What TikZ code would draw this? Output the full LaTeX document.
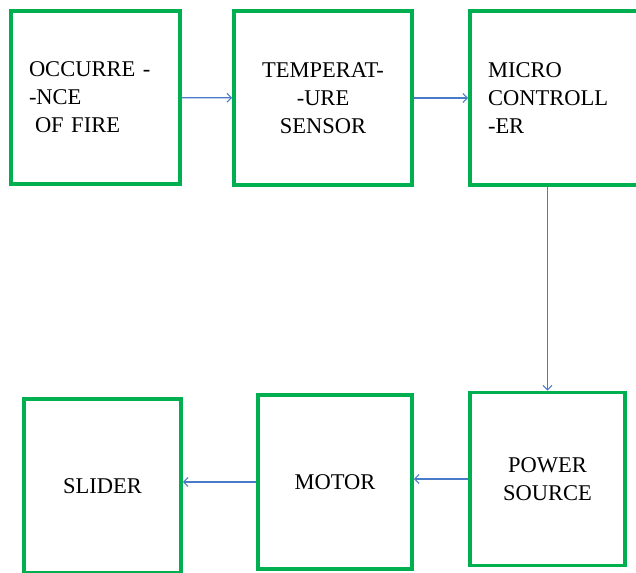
\documentclass[tikz,border=0pt]{standalone}
\usepackage{fontspec}
\setmainfont{Liberation Serif}
\usetikzlibrary{arrows.meta}
\definecolor{boxgreen}{HTML}{00B050}
\definecolor{arrblue}{HTML}{4A7BC8}
\begin{document}
\begin{tikzpicture}[x=1pt,y=-1pt,
  blk/.style={draw=boxgreen, line width=3.6pt, fill=white, inner ysep=0pt,
    font=\fontsize{22.5}{28}\selectfont},
  blkl/.style={blk, align=left, inner xsep=18pt},
  blkc/.style={blk, align=center},
  arr/.style={draw=arrblue, line width=1.2pt, -{Straight Barb[length=4.5pt,width=9pt,line width=1.1pt]}}]
\useasboundingbox (0,0) rectangle (636,572);
\node[blkl, text width=133pt, minimum height=173pt] (occ) at (95.5,97.5)
  {OCCURRE -\\-NCE\\\hspace*{6pt}OF FIRE};
\node[blkc, minimum width=178pt, minimum height=174pt] (temp) at (323,98)
  {TEMPERAT-\\-URE\\SENSOR};
\node[blkl, text width=131.5pt, minimum height=174pt] (mc) at (553.75,98)
  {MICRO\\CONTROLL\\-ER};
\node[blkc, minimum width=155pt, minimum height=173pt] (pow) at (547.5,479)
  {POWER\\SOURCE};
\node[blkc, minimum width=154pt, minimum height=174pt] (mot) at (335,482)
  {MOTOR};
\node[blkc, minimum width=157pt, minimum height=174pt] (sli) at (102.5,486)
  {SLIDER};
\draw[arr] (occ) -- (temp);
\draw[arr] (temp) -- (temp -| mc.west);
\draw[arr] (pow.north |- mc.south) -- (pow.north);
\draw[arr] (pow.west) -- (pow.west -| mot.east);
\draw[arr] (mot.west) -- (mot.west -| sli.east);
\end{tikzpicture}
\end{document}
